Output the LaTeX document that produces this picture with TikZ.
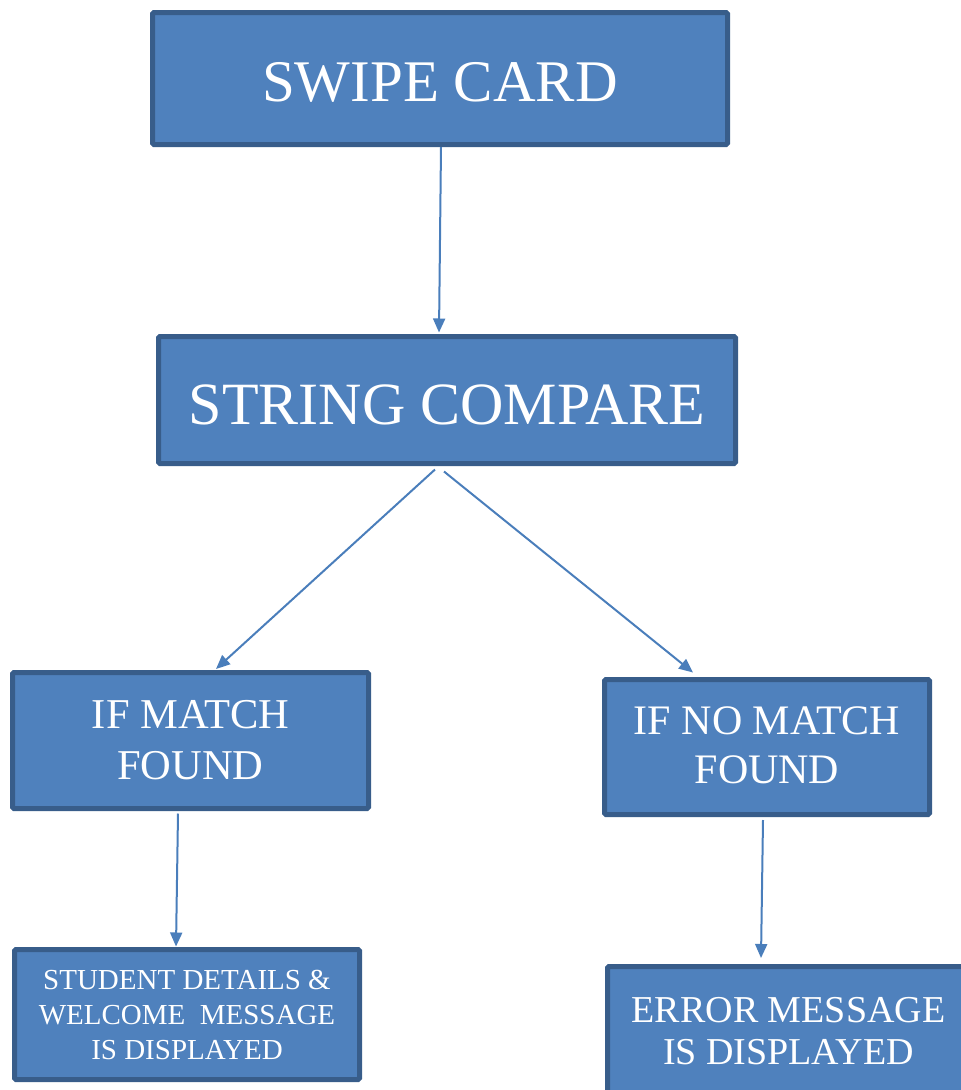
\documentclass[tikz,border=0pt]{standalone}
\usepackage{fontspec}
\setmainfont{Liberation Serif}
\usetikzlibrary{arrows.meta}
\definecolor{boxfill}{HTML}{4F81BD}
\definecolor{boxline}{HTML}{385D8A}
\definecolor{arrowc}{HTML}{4A7EBB}
\tikzset{
  box/.style={draw=boxline, fill=boxfill, line width=5pt, rounded corners=1.5pt,
    text=white, inner sep=0pt, align=center},
  arr/.style={draw=arrowc, line width=2pt, -{Triangle[length=14pt,width=12pt]}},
}
\begin{document}
\begin{tikzpicture}[x=1pt,y=-1pt]
  \useasboundingbox (0,0) rectangle (961,1090);
  \clip (0,0) rectangle (961,1090);

  % process boxes (text height / depth nudge the text within its box)
  \node[box, minimum width=575, minimum height=132, text height=46pt, text depth=0pt,
        font=\fontsize{59}{66}\selectfont] (sw) at (440,78.5) {SWIPE CARD};
  \node[box, minimum width=577, minimum height=127, text height=48pt, text depth=0pt,
        font=\fontsize{60}{66}\selectfont] (sc) at (447,400) {STRING COMPARE};
  \node[box, minimum width=356, minimum height=136,
        font=\fontsize{42.5}{51}\selectfont] (im) at (190.5,740.5) {IF MATCH\\FOUND};
  \node[box, minimum width=325, minimum height=135, text depth=4pt,
        font=\fontsize{42}{49}\selectfont] (nm) at (767,747) {IF NO MATCH\\FOUND};
  \node[box, minimum width=345, minimum height=130,
        font=\fontsize{29}{35}\selectfont] (st) at (187,1014.5)
        {STUDENT DETAILS \&\\WELCOME\ \ MESSAGE\\IS DISPLAYED};
  % runs off the lower edge, so its text sits above the middle
  \node[box, minimum width=362, minimum height=160, text depth=31pt,
        font=\fontsize{38}{41.5}\selectfont] (er) at (788.5,1046.5)
        {ERROR MESSAGE\\IS DISPLAYED};

  % connectors
  \draw[arr] ([xshift=1pt]sw.south) -- ([xshift=-8pt,yshift=1.5pt]sc.north);
  \draw[arr] ([xshift=-12pt,yshift=-3.5pt]sc.south) -- ([xshift=25.5pt,yshift=1pt]im.north);
  \draw[arr] ([xshift=-3pt,yshift=-5.5pt]sc.south) -- ([xshift=-74pt,yshift=4.5pt]nm.north);
  \draw[arr] ([xshift=-12.5pt,yshift=-2.5pt]im.south) -- ([xshift=-11pt,yshift=0.5pt]st.north);
  \draw[arr] ([xshift=-4pt,yshift=-3pt]nm.south) -- ([xshift=-27.5pt,yshift=6pt]er.north);
\end{tikzpicture}
\end{document}
